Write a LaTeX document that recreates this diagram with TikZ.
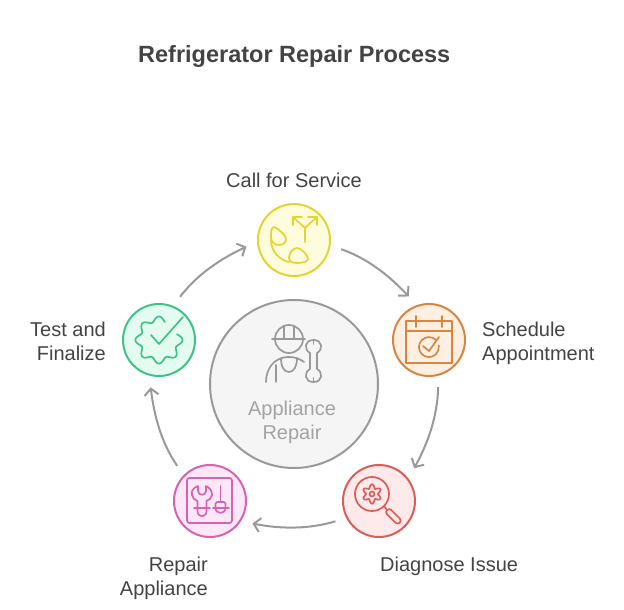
\documentclass[tikz,border=0pt]{standalone}
\usepackage{fontspec}
\setmainfont{Liberation Sans}
\usetikzlibrary{arrows.meta}
\definecolor{ink}{HTML}{434343}
\definecolor{ashline}{HTML}{999999}
\definecolor{ashfill}{HTML}{F5F5F5}
\definecolor{ashtext}{HTML}{A3A3A3}
\definecolor{callline}{HTML}{E3D42F}
\definecolor{callfill}{HTML}{FEFCDC}
\definecolor{planline}{HTML}{D9853F}
\definecolor{planfill}{HTML}{FDF0E3}
\definecolor{findline}{HTML}{DC5C57}
\definecolor{findfill}{HTML}{FEEAEA}
\definecolor{fixline}{HTML}{D862B2}
\definecolor{fixfill}{HTML}{FCE7F6}
\definecolor{passline}{HTML}{3FC287}
\definecolor{passfill}{HTML}{E4FBF1}
\begin{document}
\begin{tikzpicture}[x=1pt, y=1pt,
    stage/.style={circle, line width=2pt, minimum size=72pt, inner sep=0pt, outer sep=12pt},
    caption/.style={text=ink, inner sep=0pt, font=\fontsize{20}{24}\selectfont},
    flow/.style={ashline, line width=2pt, -{Straight Barb[length=6.5pt, width=14pt]}},
    icon/.style={line width=1.7pt, line cap=round, line join=round}]
    \useasboundingbox (-294,-226) rectangle (330,384);
    \node[anchor=west, inner sep=0pt, text=ink, font=\fontsize{23.5}{28}\selectfont\bfseries] (title) at (-156,328) {Refrigerator Repair Process};
    % the ring
    \foreach \name/\pos/\col in {call/{0,144}/call, schedule/{135,44}/plan, diagnose/{85,-117}/find, repair/{-84,-117}/fix, finalize/{-135,44}/pass}{
        \node[stage, draw=\col line, fill=\col fill] (\name) at (\pos) {};
    }
    \foreach \src/\dst/\sa/\ea [count=\i from 0] in {call/schedule/-11/115.5, schedule/diagnose/-79/43.5, diagnose/repair/-155/-28.5, repair/finalize/-227/-100.5, finalize/call/-296/-172.5}{
        \pgfmathsetmacro{\oa}{-19.2-72*\i}
        \pgfmathsetmacro{\ia}{133-72*\i}
        \draw[flow] (\src.\sa) to[out=\oa, in=\ia, looseness=.87] (\dst.\ea);
    }
    \node[circle, draw=ashline, fill=ashfill, line width=2pt, minimum size=168pt, inner sep=0pt] (hub) at (0,0) {};
    \node[text=ashtext, align=center, font=\fontsize{20}{24}\selectfont] (hubtext) at (-2,-38) {Appliance\\Repair};
    % captions
    \node[caption] (calltext) at (0,204) {Call for Service};
    \node[caption, anchor=west, align=left] (scheduletext) at (188,41) {Schedule\\Appointment};
    \node[caption, anchor=west] (diagnosetext) at (86,-182) {Diagnose Issue};
    \node[caption, anchor=east, align=right] (repairtext) at (-86,-194) {Repair\\Appliance};
    \node[caption, anchor=east, align=right] (finalizetext) at (-188,42.5) {Test and\\Finalize};
    % worker
    \begin{scope}[shift={(hub)}, icon, ashline]
        \draw (-5,45) circle[radius=14];
        \draw (-22,45) -- (11,45) (-10,58) -- (-10,45) (0,58) -- (0,45);
        \draw (-28,2) .. controls (-28,14) and (-21,27) .. (-5,27) .. controls (1,27) and (6,25) .. (10,22);
        \draw (-18,19) -- (-18,2);
        \draw (-13,26) .. controls (-13,17) and (-10,12) .. (-5,12) .. controls (0,12) and (3,18) .. (3,26);
        \draw (16,24) -- (16,31) .. controls (10,34) and (10,44) .. (19.5,44) .. controls (29,44) and (29,34) .. (23,31)
            -- (23,15) .. controls (29,12) and (29,2) .. (19.5,2) .. controls (10,2) and (10,12) .. (16,15) -- cycle;
        \draw (19.5,44) -- (19.5,40) (19.5,2) -- (19.5,6);
    \end{scope}
    % globe and fork
    \begin{scope}[shift={(call)}, icon, callline]
        \draw (11,-2) -- (11,12) -- (-1,23) (11,12) -- (23,23);
        \draw (8,23) -- (-1,23) -- (-1,15) (14,23) -- (23,23) -- (23,15);
        \draw (-23,0) .. controls (-23,-12) and (-14,-20) .. (-5,-22);
        \draw (-20,13) .. controls (-15,11) and (-7,4) .. (-8,0) .. controls (-9,-4) and (-13,-5) .. (-16,-5)
            .. controls (-20,-5) and (-23,-1) .. (-23,3) .. controls (-23,7) and (-23,13) .. (-20,13);
        \draw (3,-8) .. controls (7,-8) and (14,-15) .. (14,-19) .. controls (14,-22) and (7,-23) .. (3,-23)
            .. controls (-1,-23) and (-5,-22) .. (-5,-18) .. controls (-5,-13) and (-1,-8) .. (3,-8);
    \end{scope}
    % calendar
    \begin{scope}[shift={(schedule)}, icon, planline]
        \draw (-23,19) rectangle (23,-23);
        \draw (-23,9) -- (23,9) (-13,24) -- (-13,13) (13,24) -- (13,13);
        \draw (7,0) arc[start angle=45, end angle=370, radius=10];
        \draw (-6,-6) -- (0,-11) -- (10,3);
    \end{scope}
    % magnifier and gear
    \begin{scope}[shift={(diagnose)}, icon, findline]
        \draw (-7,7) circle[radius=17];
        \draw plot[domain=0:360, samples=90, smooth] ({-7+(7.8-1.9*cos(6*\x))*cos(\x)}, {7+(7.8-1.9*cos(6*\x))*sin(\x)}) -- cycle;
        \draw (-7,7) circle[radius=2.5];
        \draw (5,-5) -- (8,-9);
        \draw[rounded corners=3, rotate around={-45:(8,-9)}] (8,-12) rectangle (26,-6);
    \end{scope}
    % wrench and screwdriver
    \begin{scope}[shift={(repair)}, icon, fixline]
        \draw[rounded corners=2.5] (-23,23) rectangle (22,-22);
        \draw (-12,15) .. controls (-17,13) and (-19,10) .. (-18,6) .. controls (-18,3) and (-15,1) .. (-12.5,0) -- (-12.5,-10)
            .. controls (-12.5,-17) and (-3.5,-17) .. (-3.5,-10) -- (-3.5,0) .. controls (-1,1) and (2,3) .. (2,6) .. controls (2,10) and (0,13) .. (-4,15)
            -- (-4,10) .. controls (-4,5) and (-12,5) .. (-12,10) -- cycle;
        \draw (-16,-7) -- (0,-7);
        \draw (10.5,15) -- (10.5,-1);
        \draw (3,-7) -- (19,-7);
        \draw[rounded corners=1.5] (5.5,-7) -- (5.5,-1) -- (15.5,-1) -- (15.5,-7);
        \draw (5.5,-7) .. controls (5.5,-13.5) and (15.5,-13.5) .. (15.5,-7);
    \end{scope}
    % seal and tick
    \begin{scope}[shift={(finalize)}, icon, passline]
        \draw plot[domain=72:378, samples=110, smooth] (\x:{21+2.6*cos(8*\x)});
        \draw (-8,5) -- (0,-4) -- (24,23);
    \end{scope}
\end{tikzpicture}
\end{document}
